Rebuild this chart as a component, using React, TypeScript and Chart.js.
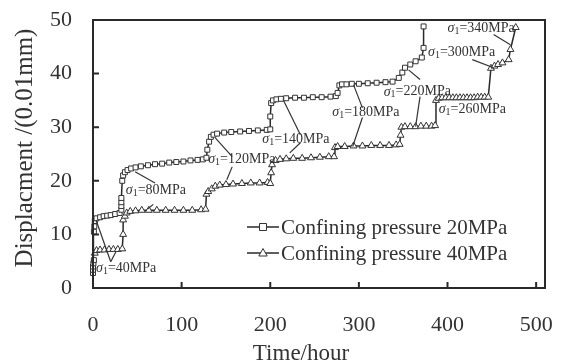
import { useEffect, useRef } from "react";
import { Chart, registerables } from "chart.js";

Chart.register(...registerables);

// ---- data ----
const time20 = [0, 0, 0, 0.5, 1, 1, 1.5, 2, 4, 8, 12, 16, 20, 25, 30, 32, 32, 32, 32, 33, 34, 36, 39, 43, 48, 54, 62, 70, 78, 86, 94, 102, 110, 118, 124, 128, 129, 131, 133, 136, 140, 148, 156, 166, 176, 186, 196, 200, 200, 201, 203, 207, 212, 218, 228, 238, 248, 258, 268, 274, 276, 278, 281, 286, 292, 300, 310, 320, 330, 338, 345, 349, 352, 358, 364, 371, 373, 373];
const disp20 = [2.8, 3.4, 4.0, 4.6, 5.2, 10.5, 11.5, 12.5, 13.0, 13.2, 13.4, 13.5, 13.6, 13.8, 14.0, 14.6, 15.3, 16.0, 16.8, 20.0, 21.0, 21.6, 22.0, 22.3, 22.5, 22.7, 22.9, 23.1, 23.2, 23.4, 23.5, 23.6, 23.8, 23.9, 24.0, 24.3, 25.8, 27.3, 28.2, 28.6, 28.8, 29.0, 29.1, 29.2, 29.3, 29.4, 29.5, 29.6, 32.0, 34.5, 35.0, 35.2, 35.3, 35.4, 35.5, 35.5, 35.6, 35.6, 35.7, 35.8, 36.4, 37.8, 38.0, 38.0, 38.1, 38.1, 38.2, 38.3, 38.4, 38.5, 39.2, 40.2, 41.1, 41.7, 42.3, 43.0, 44.8, 48.8];

const time40 = [2, 4, 8, 13, 18, 23, 28, 33, 34, 34, 36, 38, 42, 48, 55, 63, 72, 82, 92, 102, 112, 122, 127, 128, 130, 134, 138, 143, 150, 158, 168, 178, 188, 197, 200, 201, 202, 206, 211, 218, 226, 236, 246, 256, 266, 272, 273, 276, 284, 294, 304, 314, 324, 334, 342, 346, 347, 348, 352, 358, 364, 370, 376, 382, 386, 387, 390, 394, 398, 402, 406, 410, 414, 418, 422, 426, 430, 434, 438, 442, 446, 449, 453, 457, 462, 469, 471, 477];
const disp40 = [6.5, 7.0, 7.1, 7.1, 7.2, 7.2, 7.2, 7.3, 10.0, 12.7, 13.4, 14.0, 14.3, 14.4, 14.5, 14.5, 14.5, 14.5, 14.5, 14.5, 14.5, 14.6, 14.7, 17.5, 18.0, 18.5, 19.0, 19.2, 19.3, 19.4, 19.5, 19.6, 19.6, 19.7, 19.5, 21.5, 23.0, 23.8, 24.0, 24.1, 24.2, 24.2, 24.3, 24.4, 24.5, 24.5, 26.2, 26.4, 26.4, 26.5, 26.5, 26.6, 26.6, 26.6, 26.7, 26.8, 28.5, 30.0, 30.1, 30.1, 30.1, 30.2, 30.2, 30.2, 30.3, 35.0, 35.4, 35.5, 35.5, 35.5, 35.5, 35.5, 35.5, 35.5, 35.5, 35.5, 35.5, 35.6, 35.6, 35.6, 35.6, 41.0, 41.4, 41.7, 42.0, 42.6, 44.5, 48.6];

const xTicks = [0, 100, 200, 300, 400, 500];
const yTicks = [0, 10, 20, 30, 40, 50];
const seriesLabels = ["Confining pressure 20MPa", "Confining pressure 40MPa"];
const xTitle = "Time/hour";
const yTitle = "Displacment /(0.01mm)";
const stressLevels = [40, 80, 120, 140, 180, 220, 260, 300, 340];

// annotation placement in data units: label start [t, d], and leader lines
const labelAnchors: number[][] = [
  [3.4, 3.7], [37, 18.3], [130, 24.0], [191, 27.7], [270, 32.7],
  [328, 36.6], [390, 33.3], [378, 43.9], [400, 48.4],
];
const leaderLines: number[][][] = [
  [[3.4, 12.7, 20, 4.9], [20, 4.9, 26, 6.8]],
  [[47.5, 21.7, 70, 19.6], [62, 14.8, 68, 15.6]],
  [[138, 28, 157, 24.5], [157, 22.6, 151, 20.2]],
  [[215, 35, 234, 28.6], [234, 27.1, 222, 25.2]],
  [[294, 37.9, 304, 33.6], [304, 31.8, 293, 26.4]],
  [[356, 40.7, 369, 38.9], [369, 35.7, 364, 30.1]],
  [],
  [[428, 42.6, 452, 41.1]],
  [[452, 47.3, 471, 45.4]],
];

const FONT = "'Liberation Serif', 'DejaVu Serif', serif";
const INK = "#2a2a2a";

function drawMarker(ctx: CanvasRenderingContext2D, kind: string, x: number, y: number) {
  ctx.beginPath();
  if (kind === "rect") {
    ctx.rect(x - 3.5, y - 3.5, 7, 7);
  } else {
    ctx.moveTo(x, y - 4.5);
    ctx.lineTo(x + 4.2, y + 3);
    ctx.lineTo(x - 4.2, y + 3);
    ctx.closePath();
  }
  ctx.fillStyle = "#fff";
  ctx.fill();
  ctx.lineWidth = 1;
  ctx.strokeStyle = "#333";
  ctx.stroke();
}

const decorPlugin = {
  id: "decor",
  afterDraw(chart: any) {
    const { ctx, chartArea } = chart;
    const { left, right, top, bottom } = chartArea;
    const xs = chart.scales.x;
    const ys = chart.scales.y;
    ctx.save();
    // frame
    ctx.strokeStyle = INK;
    ctx.lineWidth = 2;
    ctx.strokeRect(left, top, right - left, bottom - top);
    // inward ticks
    ctx.beginPath();
    yTicks.forEach((v) => {
      if (v === 0 || v === 50) return;
      const py = ys.getPixelForValue(v);
      ctx.moveTo(left, py);
      ctx.lineTo(left + 6, py);
    });
    xTicks.forEach((v) => {
      if (v === 0) return;
      const px = xs.getPixelForValue(v);
      ctx.moveTo(px, bottom);
      ctx.lineTo(px, bottom - 6);
    });
    ctx.stroke();

    // axis titles
    ctx.fillStyle = "#333";
    ctx.textAlign = "center";
    ctx.textBaseline = "middle";
    ctx.font = `23px ${FONT}`;
    ctx.fillText(xTitle, 301, 354);
    ctx.save();
    ctx.translate(25, 148);
    ctx.rotate(-Math.PI / 2);
    ctx.font = `25px ${FONT}`;
    ctx.fillText(yTitle, 0, 0);
    ctx.restore();

    // annotations
    ctx.strokeStyle = "#333";
    ctx.lineWidth = 1.2;
    leaderLines.forEach((lines) => {
      lines.forEach(([x1, y1, x2, y2]) => {
        ctx.beginPath();
        ctx.moveTo(xs.getPixelForValue(x1), ys.getPixelForValue(y1));
        ctx.lineTo(xs.getPixelForValue(x2), ys.getPixelForValue(y2));
        ctx.stroke();
      });
    });
    ctx.fillStyle = "#333";
    ctx.textBaseline = "middle";
    ctx.textAlign = "left";
    stressLevels.forEach((s, i) => {
      const [t, d] = labelAnchors[i];
      let px = xs.getPixelForValue(t);
      const py = ys.getPixelForValue(d);
      ctx.font = `italic 14px ${FONT}`;
      ctx.fillText("σ", px, py);
      px += ctx.measureText("σ").width;
      ctx.font = `10px ${FONT}`;
      ctx.fillText("1", px, py + 3);
      px += ctx.measureText("1").width;
      ctx.font = `14px ${FONT}`;
      ctx.fillText(`=${s}MPa`, px, py);
    });

    // legend
    const rows = [
      { label: seriesLabels[0], kind: "rect", y: 227 },
      { label: seriesLabels[1], kind: "triangle", y: 253 },
    ];
    rows.forEach((r) => {
      ctx.beginPath();
      ctx.strokeStyle = INK;
      ctx.lineWidth = 1.5;
      ctx.moveTo(247, r.y);
      ctx.lineTo(279, r.y);
      ctx.stroke();
      drawMarker(ctx, r.kind, 263, r.y);
      ctx.fillStyle = "#333";
      ctx.font = `21px ${FONT}`;
      ctx.textBaseline = "middle";
      ctx.fillText(r.label, 281, r.y + 1);
    });
    ctx.restore();
  },
};

export default function App() {
  const ref = useRef<HTMLCanvasElement | null>(null);
  useEffect(() => {
    document.body.style.margin = "0";
    if (!ref.current) return;
    const toPts = (xs: number[], ys: number[]) => xs.map((x, i) => ({ x, y: ys[i] }));
    const chart = new Chart(ref.current, {
      type: "scatter",
      data: {
        datasets: [
          {
            label: seriesLabels[0],
            data: toPts(time20, disp20),
            showLine: true,
            borderColor: INK,
            borderWidth: 1.5,
            pointStyle: "rect",
            pointRadius: 3.5,
            pointBackgroundColor: "#fff",
            pointBorderColor: "#333",
            pointBorderWidth: 1,
            clip: false as any,
          },
          {
            label: seriesLabels[1],
            data: toPts(time40, disp40),
            showLine: true,
            borderColor: INK,
            borderWidth: 1.5,
            pointStyle: "triangle",
            pointRadius: 4,
            pointBackgroundColor: "#fff",
            pointBorderColor: "#333",
            pointBorderWidth: 1,
            clip: false as any,
          },
        ],
      },
      options: {
        animation: false,
        responsive: true,
        maintainAspectRatio: false,
        layout: { padding: { left: 0, top: 20, right: 16, bottom: 0 } },
        plugins: { legend: { display: false }, tooltip: { enabled: false } },
        scales: {
          x: {
            type: "linear",
            min: 0,
            max: 510,
            grid: { display: false, drawTicks: false },
            border: { display: false },
            afterBuildTicks: (s: any) => {
              s.ticks = xTicks.map((v) => ({ value: v }));
            },
            afterFit: (s: any) => {
              s.height = 76;
              s.paddingLeft = 0;
              s.paddingRight = 0;
              s.paddingTop = 0;
              s.paddingBottom = 0;
            },
            ticks: { padding: 24, color: "#333", font: { family: FONT, size: 22 } },
          },
          y: {
            type: "linear",
            min: 0,
            max: 50,
            grid: { display: false, drawTicks: false },
            border: { display: false },
            afterBuildTicks: (s: any) => {
              s.ticks = yTicks.map((v) => ({ value: v }));
            },
            afterFit: (s: any) => {
              s.width = 93;
              s.paddingLeft = 0;
              s.paddingRight = 0;
              s.paddingTop = 0;
              s.paddingBottom = 0;
            },
            ticks: { padding: 21, color: "#333", font: { family: FONT, size: 22 } },
          },
        },
      },
      plugins: [decorPlugin],
    });
    return () => chart.destroy();
  }, []);
  return (
    <div style={{ width: 561, height: 364, position: "relative" }}>
      <canvas ref={ref} />
    </div>
  );
}
